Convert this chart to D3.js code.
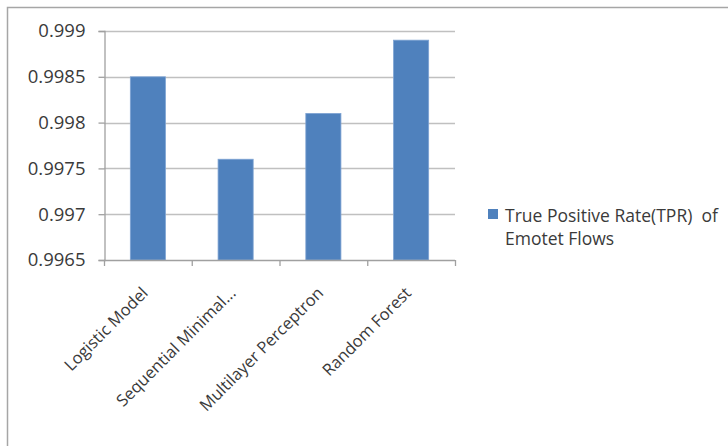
<!DOCTYPE html>
<html><head><meta charset="utf-8">
<script src="https://cdn.jsdelivr.net/npm/d3@7"></script>
<style>body{margin:0;background:#fff}svg{display:block}text{font-family:"Open Sans",sans-serif;fill:#3a3a3a}</style>
</head><body><svg id="c" width="728" height="446"></svg>
<script>
const categories = ["Logistic Model", "Sequential Minimal...", "Multilayer Perceptron", "Random Forest"];
const tprValues = [0.9985, 0.9976, 0.9981, 0.9989];
const yTicks = [0.9965, 0.997, 0.9975, 0.998, 0.9985, 0.999];
const seriesName = ["True Positive Rate(TPR)  of", "Emotet Flows"];

const svg = d3.select("#c");
svg.append("rect").attr("x",7.5).attr("y",7.5).attr("width",740).attr("height",460)
  .attr("fill","#fff").attr("stroke","#a6a6a6").attr("stroke-width",1.5);

const L=104, R=455, T=31, B=260;
const x = d3.scaleBand().domain(categories).range([L,R]).paddingInner(0.6).paddingOuter(0.3);
const xb = d3.scaleBand().domain(categories).range([L,R]);
const y = d3.scaleLinear().domain([0.9965,0.999]).range([B,T]);

// gridlines
svg.append("g").selectAll("line").data(yTicks.slice(1)).join("line")
  .attr("x1",L).attr("x2",R).attr("y1",d=>Math.round(y(d))+0.5).attr("y2",d=>Math.round(y(d))+0.5)
  .attr("stroke","#c0c0c0").attr("stroke-width",1.3);

// y axis
const ya = svg.append("g").attr("transform",`translate(${L+0.5},0)`)
  .call(d3.axisLeft(y).tickValues(yTicks).tickFormat(d=>String(+d.toFixed(4))).tickSize(6).tickPadding(13));
ya.select(".domain").attr("stroke","#a0a0a0").attr("stroke-width",1.3);
ya.selectAll(".tick line").attr("stroke","#a0a0a0").attr("stroke-width",1.3);
ya.selectAll("text").style("font-size","18.5px").attr("fill","#3a3a3a");

// bars
svg.append("g").selectAll("rect").data(categories).join("rect")
  .attr("x",d=>x(d)).attr("width",x.bandwidth())
  .attr("y",(d,i)=>y(tprValues[i])).attr("height",(d,i)=>B-y(tprValues[i]))
  .attr("fill","#4f81bd").attr("stroke","#7ea3d3").attr("stroke-width",0.8);

// x axis
const xa = svg.append("g").attr("transform",`translate(0,${B+0.5})`)
  .call(d3.axisBottom(xb).tickSize(0).tickFormat(""));
xa.select(".domain").remove();
svg.append("line").attr("x1",L).attr("x2",R).attr("y1",B+0.5).attr("y2",B+0.5).attr("stroke","#a0a0a0").attr("stroke-width",1.3);
const edges = categories.map(c=>xb(c)).concat([R]);
svg.append("g").selectAll("line").data(edges).join("line")
  .attr("x1",d=>d+0.5).attr("x2",d=>d+0.5).attr("y1",B).attr("y2",B+6)
  .attr("stroke","#a0a0a0").attr("stroke-width",1.3);

svg.append("g").selectAll("text").data(categories).join("text")
  .attr("transform",d=>`translate(${xb(d)+xb.bandwidth()/2-3},${B+30}) rotate(-45)`)
  .attr("text-anchor","end").attr("dy","0.35em").style("font-size","16.5px").text(d=>d);

// legend
svg.append("rect").attr("x",488).attr("y",209).attr("width",10).attr("height",10).attr("fill","#4f81bd");
svg.append("g").selectAll("text").data(seriesName).join("text")
  .attr("x",505).attr("y",(d,i)=>222+i*23).style("font-size","17.5px").attr("xml:space","preserve").text(d=>d);
</script></body></html>
